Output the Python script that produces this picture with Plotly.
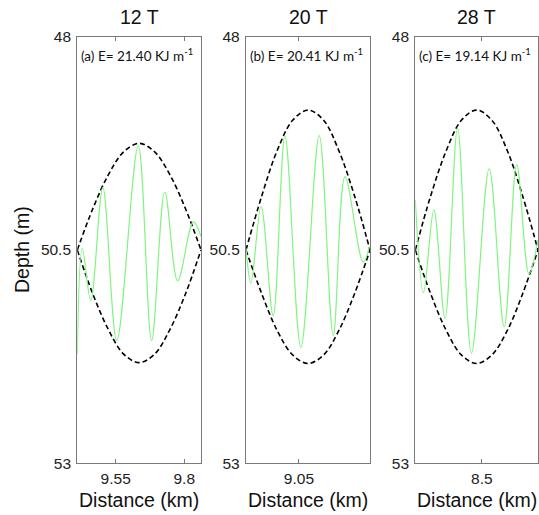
import plotly.graph_objects as go

# ---- data ----
titles = ["12 T", "20 T", "28 T"]
labels = ["(a) E= 21.40 KJ m<sup>-1</sup>", "(b) E= 20.41 KJ m<sup>-1</sup>", "(c) E= 19.14 KJ m<sup>-1</sup>"]
x_ranges = [[9.410, 9.861], [8.857, 9.309], [8.256, 8.706]]
x_ticks = [[9.55, 9.8], [9.05], [8.5]]
y_ticks = [48, 50.5, 53]

wave1_x = [9.410, 9.428, 9.459, 9.503, 9.554, 9.632, 9.681, 9.729, 9.776, 9.833, 9.861]
wave1_y = [51.72, 50.48, 51.09, 49.77, 51.56, 49.28, 51.56, 49.82, 50.86, 50.17, 50.34]
wave2_x = [8.857, 8.875, 8.912, 8.956, 8.999, 9.057, 9.124, 9.175, 9.218, 9.284, 9.307]
wave2_y = [50.48, 50.89, 49.99, 51.27, 49.16, 51.64, 49.16, 51.50, 49.64, 50.64, 50.46]
wave3_x = [8.256, 8.286, 8.324, 8.365, 8.411, 8.462, 8.527, 8.582, 8.628, 8.673, 8.706]
wave3_y = [49.91, 51.00, 50.03, 51.30, 49.07, 51.71, 49.55, 51.40, 49.50, 50.78, 50.38]

env1_x = [9.410, 9.466, 9.523, 9.579, 9.636, 9.692, 9.748, 9.805, 9.861]
env1_up = [50.50, 50.02, 49.62, 49.35, 49.25, 49.35, 49.62, 50.02, 50.50]
env1_lo = [50.50, 51.01, 51.43, 51.72, 51.82, 51.72, 51.43, 51.01, 50.50]
env2_x = [8.857, 8.914, 8.970, 9.027, 9.083, 9.140, 9.196, 9.253, 9.309]
env2_up = [50.50, 49.87, 49.34, 48.98, 48.86, 48.98, 49.34, 49.87, 50.50]
env2_lo = [50.50, 51.01, 51.44, 51.73, 51.83, 51.73, 51.44, 51.01, 50.50]
env3_x = [8.256, 8.312, 8.369, 8.425, 8.481, 8.537, 8.594, 8.650, 8.706]
env3_up = [50.50, 49.87, 49.34, 48.98, 48.86, 48.98, 49.34, 49.87, 50.50]
env3_lo = [50.50, 51.01, 51.44, 51.73, 51.83, 51.73, 51.44, 51.01, 50.50]

waves = [(wave1_x, wave1_y), (wave2_x, wave2_y), (wave3_x, wave3_y)]
envs = [(env1_x, env1_up, env1_lo), (env2_x, env2_up, env2_lo), (env3_x, env3_up, env3_lo)]

W, H = 539, 515
x_dom_px = [(77.3, 201.0), (246.0, 370.0), (415.3, 538.0)]
y_top_px, y_bot_px = 36.7, 463.3

fig = go.Figure()
GREEN = "rgb(128,245,128)"
AX = "#7a7a7a"
NUM_FONT = dict(family="Liberation Sans, Arial", size=15.5, color="#222")
LAB_FONT = dict(family="Liberation Sans, Arial", size=19.5, color="#111")

for i in range(3):
    xa = "x" if i == 0 else f"x{i+1}"
    ya = "y" if i == 0 else f"y{i+1}"
    ex, eu, el = envs[i]
    for ey in (eu, el):
        fig.add_trace(go.Scatter(x=ex, y=ey, mode="lines", xaxis=xa, yaxis=ya,
                                 line=dict(color="black", width=1.6, dash="5px,3px", shape="spline"),
                                 showlegend=False, hoverinfo="skip"))
    wx, wy = waves[i]
    fig.add_trace(go.Scatter(x=wx, y=wy, mode="lines", xaxis=xa, yaxis=ya,
                             line=dict(color=GREEN, width=1.2, shape="spline", smoothing=1.0),
                             showlegend=False, hoverinfo="skip"))

layout = dict(width=W, height=H, autosize=False, margin=dict(l=0, r=0, t=0, b=0, pad=0),
              paper_bgcolor="white", plot_bgcolor="white", showlegend=False)
annotations = []
for i in range(3):
    k = "" if i == 0 else str(i + 1)
    x0, x1 = x_dom_px[i]
    layout["xaxis" + k] = dict(domain=[x0 / W, x1 / W], range=x_ranges[i], tickvals=x_ticks[i],
                               ticktext=[("%g" % v) for v in x_ticks[i]], automargin=False,
                               showline=True, linecolor=AX, linewidth=1.3, mirror="ticks",
                               ticks="inside", ticklen=4, tickcolor=AX, showgrid=False, zeroline=False,
                               tickfont=NUM_FONT, ticklabelstandoff=1, anchor="y" + k)
    layout["yaxis" + k] = dict(domain=[1 - y_bot_px / H, 1 - y_top_px / H], range=[53, 48],
                               tickvals=y_ticks, ticktext=["48", "50.5", "53"], automargin=False,
                               showline=True, linecolor=AX, linewidth=1.3, mirror=True,
                               ticks="", showgrid=False, zeroline=False,
                               tickfont=NUM_FONT, ticklabelstandoff=2, anchor="x" + k)
    cx = (x0 + x1) / 2
    annotations.append(dict(text=titles[i], x=cx / W, y=1 - 17 / H, xref="paper", yref="paper",
                            showarrow=False, xanchor="center", yanchor="middle", font=LAB_FONT))
    annotations.append(dict(text="Distance (km)", x=cx / W, y=1 - 500 / H, xref="paper", yref="paper",
                            showarrow=False, xanchor="center", yanchor="middle", font=LAB_FONT))
    annotations.append(dict(text=labels[i], x=(x0 + 1.5) / W, y=1 - 55 / H, xref="paper", yref="paper",
                            showarrow=False, xanchor="left", yanchor="middle",
                            font=dict(family="Lato, Noto Sans", size=13.5, color="#111")))
annotations.append(dict(text="Depth (m)", x=22 / W, y=1 - 250 / H, xref="paper", yref="paper",
                        showarrow=False, textangle=-90, xanchor="center", yanchor="middle", font=LAB_FONT))
layout["annotations"] = annotations
fig.update_layout(**layout)
css = ("var s=document.createElement('style');"
       "s.textContent='html,body{margin:0;padding:0;overflow:hidden;width:539px;height:515px;}';"
       "document.head.appendChild(s);")
fig.write_html("out.html", config={"displayModeBar": False, "responsive": False},
               default_width="539px", default_height="515px", post_script=css)
